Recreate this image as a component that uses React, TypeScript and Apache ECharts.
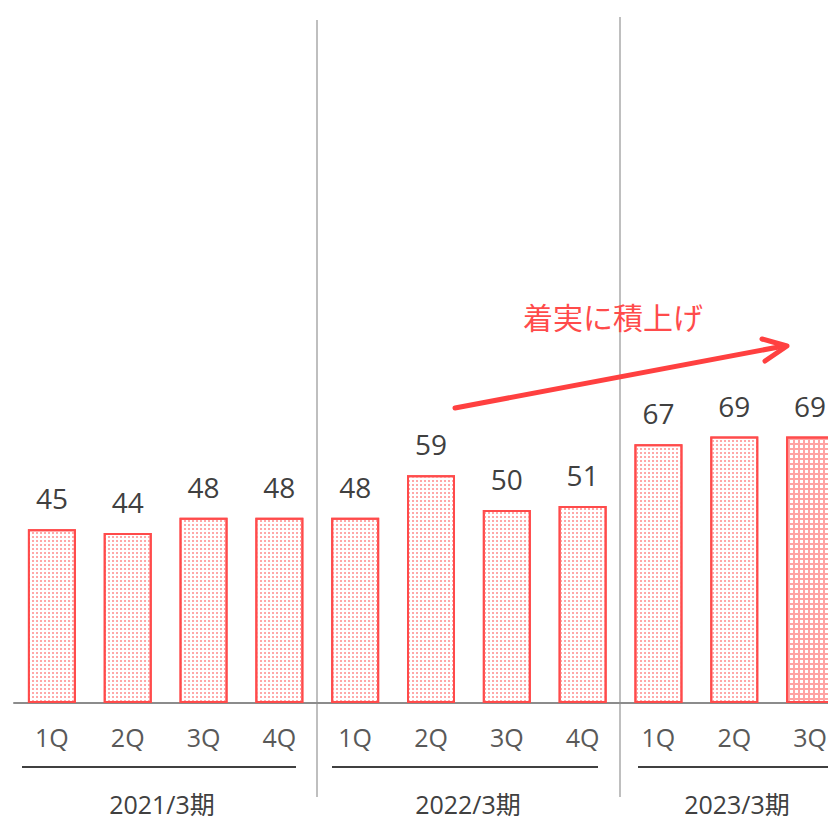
import React, { useEffect, useRef } from "react";
import * as echarts from "echarts";

const categories = ["1Q", "2Q", "3Q", "4Q", "1Q", "2Q", "3Q", "4Q", "1Q", "2Q", "3Q"];
const values = [45, 44, 48, 48, 48, 59, 50, 51, 67, 69, 69];
const groupLabels = ["2021/3期", "2022/3期", "2023/3期"];
const annotation = "着実に積上げ";

const FONT = "'Open Sans', 'Noto Sans CJK JP', sans-serif";

export default function App() {
  const ref = useRef<HTMLDivElement>(null);
  useEffect(() => {
    document.body.style.margin = "0";
    const chart = echarts.init(ref.current!, undefined, { renderer: "svg" });
    const lightDecal = {
      symbol: "rect",
      symbolSize: 1,
      color: "#ffa8a8",
      dashArrayX: [2, 2],
      dashArrayY: [2, 2],
      rotation: 0,
    };
    const denseDecal = {
      symbol: "rect",
      symbolSize: 1,
      color: "#ffffff",
      dashArrayX: [2.5, 1.5],
      dashArrayY: [2.5, 1.5],
      rotation: 0,
    };
    const data = values.map((v, i) =>
      i === values.length - 1
        ? { value: v, itemStyle: { color: "#ffa3a3", decal: denseDecal } }
        : { value: v, itemStyle: { color: "#ffffff", decal: lightDecal } }
    );
    chart.setOption({
      animation: false,
      textStyle: { fontFamily: FONT },
      grid: { left: 14, right: 0, top: 8, bottom: 118 },
      xAxis: {
        type: "category",
        data: categories,
        axisLine: { lineStyle: { color: "#8c8c8c", width: 2 } },
        axisTick: { show: false },
        axisLabel: { color: "#595959", fontSize: 25, margin: 21, fontFamily: FONT },
      },
      yAxis: { type: "value", min: 0, max: 180, show: false, splitLine: { show: false } },
      series: [
        {
          type: "bar",
          barWidth: 48,
          data,
          itemStyle: { borderColor: "#ff4b4b", borderWidth: 2 },
          label: {
            show: true,
            position: "top",
            distance: 17,
            color: "#404040",
            fontSize: 28,
            fontFamily: FONT,
          },
        },
      ],
      graphic: [
        { type: "line", shape: { x1: 317, y1: 20, x2: 317, y2: 797 }, style: { stroke: "#bfbfbf", lineWidth: 2 } },
        { type: "line", shape: { x1: 620, y1: 17, x2: 620, y2: 797 }, style: { stroke: "#bfbfbf", lineWidth: 2 } },
        { type: "line", shape: { x1: 22, y1: 767, x2: 296, y2: 767 }, style: { stroke: "#404040", lineWidth: 2 } },
        { type: "line", shape: { x1: 332, y1: 767, x2: 598, y2: 767 }, style: { stroke: "#404040", lineWidth: 2 } },
        { type: "line", shape: { x1: 638, y1: 767, x2: 848, y2: 767 }, style: { stroke: "#404040", lineWidth: 2 } },
        { type: "text", x: 162, y: 804, style: { text: groupLabels[0], fill: "#404040", fontSize: 25, fontFamily: FONT, align: "center", verticalAlign: "middle" } },
        { type: "text", x: 468, y: 804, style: { text: groupLabels[1], fill: "#404040", fontSize: 25, fontFamily: FONT, align: "center", verticalAlign: "middle" } },
        { type: "text", x: 737, y: 804, style: { text: groupLabels[2], fill: "#404040", fontSize: 25, fontFamily: FONT, align: "center", verticalAlign: "middle" } },
        { type: "text", x: 613, y: 317, style: { text: annotation, fill: "#ff4b4b", fontSize: 30, fontFamily: FONT, align: "center", verticalAlign: "middle" } },
        { type: "line", shape: { x1: 455, y1: 408, x2: 784, y2: 346 }, style: { stroke: "#ff4040", lineWidth: 5, lineCap: "round" } },
        { type: "polyline", shape: { points: [[762, 339], [787, 346], [765, 361]] }, style: { stroke: "#ff4040", fill: "none", lineWidth: 5, lineCap: "round", lineJoin: "round" } },
      ],
    });
    return () => chart.dispose();
  }, []);
  return (
    <div style={{ width: 828, height: 821, overflow: "hidden" }}>
      <div ref={ref} style={{ width: 848, height: 821 }} />
    </div>
  );
}
